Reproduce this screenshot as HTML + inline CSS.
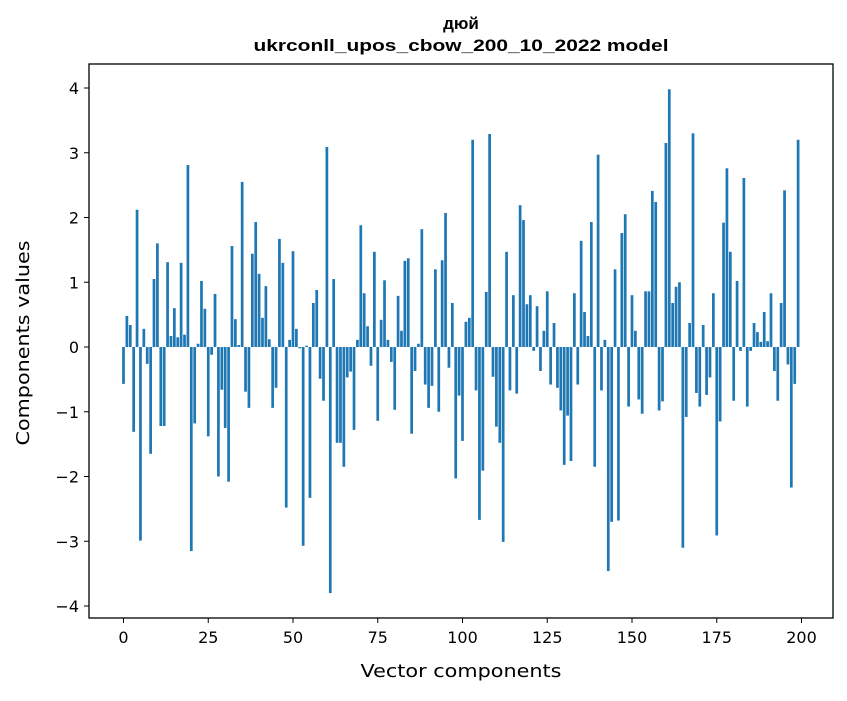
<!DOCTYPE html>
<html><head><meta charset="utf-8"><style>
body{margin:0;background:#fff;font-family:"Liberation Sans","DejaVu Sans",sans-serif;}
svg text{font-family:"DejaVu Sans","Liberation Sans",sans-serif;}
svg text.title{font-family:"Liberation Sans",sans-serif;}
</style></head><body>
<svg id="chart" width="847" height="696" xmlns="http://www.w3.org/2000/svg">
<rect width="847" height="696" fill="#fff"/>
<text class="title" x="461" y="29" text-anchor="middle" font-size="17" font-weight="bold" fill="#000">дюй</text>
<text class="title" x="461" y="51" text-anchor="middle" font-size="17" font-weight="bold" fill="#000" textLength="415" lengthAdjust="spacingAndGlyphs">ukrconll_upos_cbow_200_10_2022 model</text>
<g id="bars"></g>
<g id="axes"></g>
<rect x="89" y="64" width="744" height="554" fill="none" stroke="#000" stroke-width="1.3"/>
<text x="461" y="677" text-anchor="middle" font-size="18" fill="#000" textLength="201" lengthAdjust="spacingAndGlyphs">Vector components</text>
<text transform="translate(29,343) rotate(-90)" text-anchor="middle" font-size="18" fill="#000" textLength="205" lengthAdjust="spacingAndGlyphs">Components values</text>
</svg>
<script>
const values = [
-0.57,0.48,0.34,-1.31,2.12,-2.99,0.28,-0.26,-1.65,1.05,
1.6,-1.22,-1.22,1.31,0.17,0.6,0.15,1.3,0.19,2.81,
-3.15,-1.18,0.05,1.02,0.59,-1.38,-0.12,0.82,-2.0,-0.66,
-1.25,-2.08,1.56,0.43,0.03,2.55,-0.69,-0.94,1.44,1.93,
1.13,0.45,0.94,0.12,-0.94,-0.63,1.67,1.3,-2.48,0.11,
1.48,0.28,-0.02,-3.07,0.02,-2.33,0.68,0.88,-0.49,-0.83,
3.09,-3.8,1.05,-1.48,-1.48,-1.85,-0.47,-0.38,-1.28,0.11,
1.88,0.83,0.32,-0.29,1.47,-1.14,0.42,1.03,0.11,-0.23,
-0.97,0.79,0.25,1.33,1.37,-1.34,-0.37,0.05,1.82,-0.58,
-0.94,-0.6,1.2,-1.0,1.34,2.07,-0.32,0.68,-2.03,-0.75,
-1.45,0.39,0.45,3.2,-0.67,-2.67,-1.91,0.85,3.29,-0.46,
-1.23,-1.48,-3.01,1.47,-0.67,0.8,-0.72,2.19,1.96,0.66,
0.8,-0.06,0.63,-0.37,0.25,0.86,-0.58,0.37,-0.63,-0.98,
-1.82,-1.06,-1.76,0.83,-0.58,1.64,0.54,0.17,1.93,-1.85,
2.97,-0.67,0.11,-3.46,-2.7,1.2,-2.68,1.76,2.05,-0.92,
0.8,0.25,-0.81,-1.03,0.86,0.86,2.41,2.24,-0.98,-0.84,
3.15,3.98,0.68,0.93,1.0,-3.1,-1.08,0.37,3.3,-0.71,
-0.92,0.34,-0.74,-0.47,0.83,-2.91,-1.15,1.92,2.76,1.47,
-0.83,1.02,-0.06,2.61,-0.92,-0.06,0.37,0.23,0.08,0.54,
0.09,0.83,-0.37,-0.83,0.68,2.42,-0.27,-2.17,-0.57,3.2
];
const xTicks = [0,25,50,75,100,125,150,175,200];
const yTicks = [-4,-3,-2,-1,0,1,2,3,4];
const NS="http://www.w3.org/2000/svg";
function xs(v){return 123.5+3.39*v;}
function ys(v){return 347-64.75*v;}
const bars=document.getElementById('bars');
values.forEach((v,i)=>{
  const r=document.createElementNS(NS,'rect');
  
  
  const y0=ys(0),y1=ys(v);
  r.setAttribute('x',xs(i)-1.36);
  r.setAttribute('width',2.72);
  r.setAttribute('y',Math.min(y0,y1));
  r.setAttribute('height',Math.abs(y1-y0));
  r.setAttribute('fill','#1f77b4');
  bars.appendChild(r);
});
const axes=document.getElementById('axes');
xTicks.forEach(t=>{
  const l=document.createElementNS(NS,'line');
  
  
  l.setAttribute('x1',xs(t));l.setAttribute('x2',xs(t));
  l.setAttribute('y1',618);l.setAttribute('y2',623);
  l.setAttribute('stroke','#000');
  axes.appendChild(l);
  const tx=document.createElementNS(NS,'text');
  
  
  tx.setAttribute('x',xs(t));tx.setAttribute('y',643);
  tx.setAttribute('text-anchor','middle');tx.setAttribute('font-size','16');
  tx.textContent=t;
  axes.appendChild(tx);
});
yTicks.forEach(t=>{
  const l=document.createElementNS(NS,'line');
  
  
  l.setAttribute('x1',84);l.setAttribute('x2',89);
  l.setAttribute('y1',ys(t));l.setAttribute('y2',ys(t));
  l.setAttribute('stroke','#000');
  axes.appendChild(l);
  const tx=document.createElementNS(NS,'text');
  
  
  tx.setAttribute('x',79);tx.setAttribute('y',ys(t)+6);
  tx.setAttribute('text-anchor','end');tx.setAttribute('font-size','16');
  tx.textContent=t<0?'\u2212'+Math.abs(t):String(t);
  axes.appendChild(tx);
});
</script>
</body></html>
